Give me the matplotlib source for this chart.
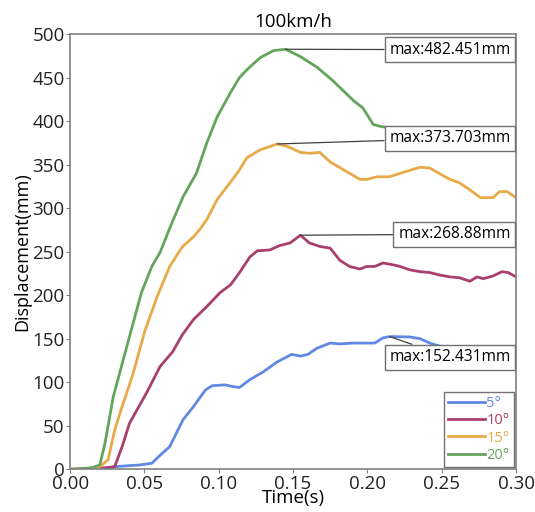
import matplotlib
matplotlib.use("Agg")
import matplotlib.pyplot as plt

plt.rcParams["font.family"] = ["Open Sans", "DejaVu Sans"]

# Displacement curves (time in s, displacement in mm) for each angle
t_5 = [0, 0.020, 0.025, 0.030, 0.038, 0.047, 0.055, 0.0605, 0.067, 0.076, 0.083, 0.091,
       0.0955, 0.104, 0.1095, 0.114, 0.121, 0.130, 0.139, 0.149, 0.155, 0.160, 0.166,
       0.175, 0.1815, 0.190, 0.1995, 0.205, 0.2105, 0.215, 0.2287, 0.2355, 0.242, 0.2455,
       0.25, 0.26, 0.27]
d_5 = [0, 0.5, 1, 3, 4, 5, 7, 16, 26, 57, 72, 91,
       96, 97, 95, 94, 103, 112, 123, 132, 130, 132, 139,
       145, 144, 145, 145, 145, 151, 152.431, 152, 150, 145, 143,
       141, 138, 136]

t_10 = [0, 0.015, 0.025, 0.030, 0.035, 0.040, 0.0515, 0.0605, 0.069, 0.0753, 0.083, 0.092,
        0.101, 0.108, 0.114, 0.121, 0.126, 0.1345, 0.141, 0.148, 0.155, 0.161, 0.168,
        0.175, 0.1815, 0.188, 0.195, 0.1995, 0.205, 0.2105, 0.217, 0.222, 0.2287, 0.2355,
        0.242, 0.249, 0.2556, 0.262, 0.269, 0.2737, 0.278, 0.2845, 0.2905, 0.2947, 0.300]
d_10 = [0, 0.5, 2, 3, 26, 53, 88, 118, 135, 154, 172, 187,
        203, 212, 226, 244, 251, 252, 257, 260, 268.88, 260, 256,
        254, 240, 233, 230, 233, 233, 237, 235, 233, 229, 227,
        226, 223, 221, 220, 216, 221, 219, 222, 227, 226, 221]

t_15 = [0, 0.010, 0.020, 0.0256, 0.030, 0.035, 0.0417, 0.0505, 0.0585, 0.067, 0.0753,
        0.083, 0.0875, 0.092, 0.099, 0.108, 0.114, 0.119, 0.128, 0.1395, 0.146, 0.155,
        0.161, 0.168, 0.175, 0.186, 0.195, 0.1995, 0.2065, 0.215, 0.222, 0.2355, 0.242,
        0.2556, 0.262, 0.269, 0.276, 0.2845, 0.289, 0.294, 0.300]
d_15 = [0, 0.5, 3, 11, 45, 72, 106, 160, 198, 233, 255,
        267, 276, 287, 310, 330, 344, 358, 367, 373.703, 371, 364,
        363, 364, 353, 342, 333, 333, 336, 336, 340, 347, 346,
        333, 329, 321, 312, 312, 319, 319, 312]

t_20 = [0, 0.010, 0.015, 0.020, 0.0235, 0.029, 0.038, 0.048, 0.055, 0.0605, 0.068,
        0.076, 0.085, 0.092, 0.099, 0.108, 0.114, 0.119, 0.128, 0.137, 0.145, 0.155,
        0.166, 0.177, 0.191, 0.197, 0.204, 0.2085, 0.212, 0.22, 0.24]
d_20 = [0, 1, 2, 5, 30, 83, 140, 203, 233, 249, 281,
        313, 340, 375, 405, 433, 450, 459, 473, 481, 482.451, 474,
        462, 446, 423, 415, 396, 394, 393, 391, 386]

labels = ["5°", "10°", "15°", "20°"]
colors = ["#6088E4", "#A8406E", "#E8AA48", "#64A45C"]

# peak annotations: (peak t, peak value, text x, text y)
peaks = [(0.145, 482.451, 0.2555, 482),
         (0.1395, 373.703, 0.2555, 380),
         (0.155, 268.88, 0.2585, 270),
         (0.215, 152.431, 0.2555, 128.5)]
peak_texts = ["max:482.451mm", "max:373.703mm", "max:268.88mm", "max:152.431mm"]

fig = plt.figure(figsize=(5.35, 5.12), dpi=100)
ax = fig.add_axes([0.131, 0.0834, 0.8335, 0.8502])

series = [(t_5, d_5), (t_10, d_10), (t_15, d_15), (t_20, d_20)]
for (t, d), lab, c in zip(series, labels, colors):
    ax.plot(t, d, color=c, lw=2, label=lab)

for (px, py, tx, ty), txt in zip(peaks, peak_texts):
    ax.annotate(txt, xy=(px, py), xytext=(tx, ty), textcoords="data",
                ha="center", va="center", fontsize=11.2, zorder=5,
                bbox=dict(boxstyle="square,pad=0.3", fc="white", ec="#707070", lw=1),
                arrowprops=dict(arrowstyle="-", color="#404040", lw=0.9,
                                shrinkA=0, shrinkB=0))

ax.set_xlim(0, 0.30)
ax.set_ylim(0, 500)
ax.set_xticks([0, 0.05, 0.10, 0.15, 0.20, 0.25, 0.30])
ax.set_xticklabels(["0.00", "0.05", "0.10", "0.15", "0.20", "0.25", "0.30"])
ax.set_yticks(range(0, 501, 50))

for sp in ax.spines.values():
    sp.set_color("#808080")
    sp.set_linewidth(1.2)
ax.tick_params(colors="#808080", labelcolor="#222222", labelsize=13.5, length=3, pad=1)

ax.set_title("100km/h", fontsize=13.5, pad=5)
ax.set_xlabel("Time(s)", fontsize=13.5, labelpad=-3)
ax.set_ylabel("Displacement(mm)", fontsize=13, labelpad=1)

leg = ax.legend(loc="lower right", fontsize=10.5, labelcolor=colors, fancybox=False,
                handlelength=2.5, handletextpad=0.1, labelspacing=0.15,
                borderaxespad=0.15, borderpad=0.3)
leg.get_frame().set_edgecolor("#505050")
leg.get_frame().set_linewidth(1)
leg.set_zorder(6)

fig.savefig("out.png", dpi=100)
